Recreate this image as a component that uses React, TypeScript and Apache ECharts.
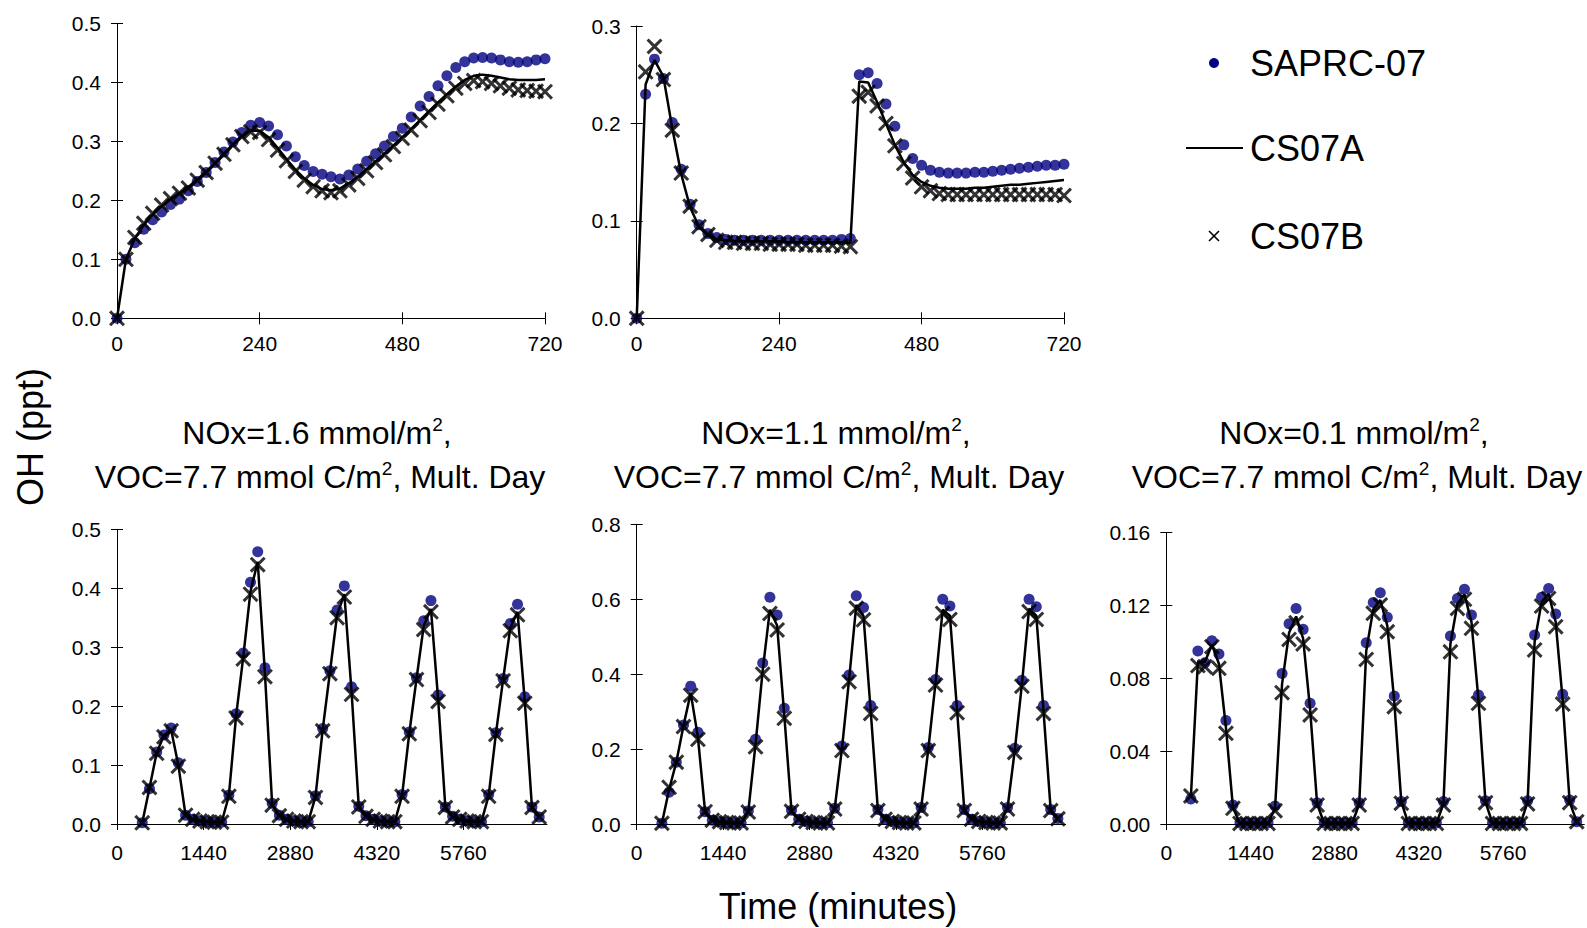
import React, { useEffect, useRef } from "react";
import * as echarts from "echarts";

const FONT = "'Liberation Sans', Arial, Helvetica, sans-serif";

// ---------- time axes ----------
const TOP_TIMES = [
  0, 15, 30, 45, 60, 75, 90, 105, 120, 135, 150, 165, 180, 195, 210, 225, 240,
  255, 270, 285, 300, 315, 330, 345, 360, 375, 390, 405, 420, 435, 450, 465, 480,
  495, 510, 525, 540, 555, 570, 585, 600, 615, 630, 645, 660, 675, 690, 705, 720,
];
const BOTTOM_TIMES = [
  420, 540, 660, 780, 900, 1020, 1140, 1260, 1380, 1500, 1620, 1740,
  1860, 1980, 2100, 2220, 2340, 2460, 2580, 2700, 2820, 2940, 3060, 3180,
  3300, 3420, 3540, 3660, 3780, 3900, 4020, 4140, 4260, 4380, 4500, 4620,
  4740, 4860, 4980, 5100, 5220, 5340, 5460, 5580, 5700, 5820, 5940, 6060,
  6180, 6300, 6420, 6540, 6660, 6780, 6900, 7020,
];
const TOP_X_TICKS = [0, 240, 480, 720];
const BOTTOM_X_TICKS = [0, 1440, 2880, 4320, 5760];

// ---------- top-left panel ----------
const TL_SAPRC = [
  0, 0.1, 0.128, 0.151, 0.167, 0.18, 0.193, 0.202, 0.216, 0.232,
  0.247, 0.264, 0.282, 0.299, 0.315, 0.327, 0.332, 0.326, 0.311, 0.292,
  0.274, 0.259, 0.249, 0.244, 0.24, 0.236, 0.243, 0.253, 0.266, 0.279,
  0.292, 0.308, 0.322, 0.341, 0.36, 0.376, 0.394, 0.411, 0.425, 0.435,
  0.441, 0.442, 0.441, 0.438, 0.435, 0.434, 0.435, 0.438, 0.44,
];
const TL_CS07A = [
  0, 0.1, 0.135, 0.158, 0.176, 0.19, 0.202, 0.212, 0.222, 0.235,
  0.248, 0.263, 0.279, 0.295, 0.309, 0.318, 0.318, 0.307, 0.289, 0.27,
  0.252, 0.237, 0.226, 0.219, 0.217, 0.22, 0.229, 0.24, 0.253, 0.266,
  0.279, 0.293, 0.307, 0.321, 0.336, 0.351, 0.366, 0.38, 0.393, 0.404,
  0.411, 0.413, 0.411, 0.408, 0.405, 0.404, 0.404, 0.404, 0.405,
];
const TL_CS07B = [
  0, 0.1, 0.137, 0.161, 0.178, 0.192, 0.203, 0.212, 0.221, 0.234,
  0.247, 0.263, 0.278, 0.294, 0.308, 0.316, 0.315, 0.303, 0.285, 0.267,
  0.249, 0.234, 0.223, 0.216, 0.213, 0.216, 0.226, 0.237, 0.25, 0.264,
  0.277, 0.291, 0.305, 0.319, 0.335, 0.349, 0.363, 0.377, 0.39, 0.398,
  0.403, 0.401, 0.398, 0.394, 0.39, 0.387, 0.386, 0.385, 0.384,
];

// ---------- top-middle panel ----------
const TM_SAPRC = [
  0, 0.23, 0.266, 0.246, 0.201, 0.153, 0.117, 0.096, 0.087, 0.083,
  0.081, 0.08, 0.08, 0.08, 0.08, 0.08, 0.08, 0.08, 0.08, 0.08,
  0.08, 0.08, 0.08, 0.081, 0.082, 0.25, 0.252, 0.241, 0.22, 0.197,
  0.178, 0.164, 0.157, 0.152, 0.15, 0.149, 0.149, 0.149, 0.15, 0.15,
  0.151, 0.152, 0.153, 0.154, 0.155, 0.156, 0.157, 0.157, 0.158,
];
const TM_CS07A = [
  0, 0.24, 0.265, 0.248, 0.195, 0.148, 0.114, 0.094, 0.085, 0.081,
  0.08, 0.079, 0.079, 0.079, 0.079, 0.079, 0.079, 0.078, 0.078, 0.078,
  0.078, 0.078, 0.078, 0.078, 0.077, 0.243, 0.242, 0.222, 0.2, 0.178,
  0.16, 0.147, 0.14, 0.136, 0.134, 0.133, 0.133, 0.133, 0.134, 0.134,
  0.135, 0.136, 0.137, 0.137, 0.138, 0.139, 0.14, 0.141, 0.142,
];
const TM_CS07B = [
  0, 0.253, 0.279, 0.245, 0.193, 0.149, 0.115, 0.094, 0.086, 0.08,
  0.078, 0.078, 0.077, 0.077, 0.077, 0.076, 0.076, 0.076, 0.076, 0.075,
  0.075, 0.075, 0.075, 0.074, 0.0735, 0.228, 0.232, 0.218, 0.2, 0.177,
  0.159, 0.144, 0.135, 0.131, 0.128, 0.127, 0.127, 0.127, 0.127, 0.127,
  0.127, 0.127, 0.127, 0.127, 0.127, 0.127, 0.127, 0.127, 0.126,
];

// ---------- bottom-left panel (NOx=1.6) ----------
const BL_SAPRC = [
  0.002, 0.06, 0.122, 0.151, 0.163, 0.104, 0.015, 0.008, 0.005, 0.004, 0.003, 0.003,
  0.049, 0.187, 0.29, 0.41, 0.462, 0.265, 0.035, 0.015, 0.008, 0.005, 0.004, 0.004,
  0.048, 0.162, 0.26, 0.363, 0.404, 0.233, 0.03, 0.014, 0.008, 0.005, 0.004, 0.004,
  0.05, 0.156, 0.248, 0.345, 0.379, 0.219, 0.029, 0.013, 0.008, 0.005, 0.004, 0.004,
  0.05, 0.155, 0.247, 0.34, 0.373, 0.216, 0.029, 0.012,
];
const BL_CS07A = [
  0.002, 0.061, 0.121, 0.15, 0.16, 0.1, 0.015, 0.008, 0.005, 0.004, 0.003, 0.003,
  0.048, 0.183, 0.284, 0.395, 0.445, 0.255, 0.033, 0.014, 0.008, 0.005, 0.004, 0.004,
  0.046, 0.16, 0.257, 0.355, 0.39, 0.225, 0.03, 0.013, 0.008, 0.005, 0.004, 0.004,
  0.048, 0.154, 0.246, 0.336, 0.365, 0.212, 0.028, 0.012, 0.008, 0.005, 0.004, 0.004,
  0.048, 0.153, 0.245, 0.333, 0.36, 0.209, 0.028, 0.012,
];
const BL_CS07B = [
  0.002, 0.062, 0.12, 0.148, 0.158, 0.098, 0.015, 0.008, 0.005, 0.004, 0.003, 0.003,
  0.047, 0.18, 0.28, 0.39, 0.44, 0.25, 0.032, 0.014, 0.008, 0.005, 0.004, 0.004,
  0.045, 0.158, 0.255, 0.35, 0.385, 0.22, 0.029, 0.013, 0.008, 0.005, 0.004, 0.004,
  0.047, 0.153, 0.245, 0.33, 0.36, 0.208, 0.028, 0.012, 0.008, 0.005, 0.004, 0.004,
  0.047, 0.152, 0.243, 0.328, 0.355, 0.205, 0.028, 0.012,
];

// ---------- bottom-middle panel (NOx=1.1) ----------
const BM_SAPRC = [
  0.002, 0.085, 0.165, 0.264, 0.368, 0.245, 0.033, 0.01, 0.006, 0.004, 0.003, 0.003,
  0.035, 0.226, 0.43, 0.605, 0.558, 0.309, 0.037, 0.013, 0.007, 0.004, 0.003, 0.003,
  0.042, 0.208, 0.398, 0.609, 0.578, 0.316, 0.039, 0.013, 0.007, 0.004, 0.003, 0.003,
  0.044, 0.204, 0.386, 0.6, 0.582, 0.316, 0.039, 0.013, 0.007, 0.004, 0.003, 0.003,
  0.044, 0.202, 0.384, 0.6, 0.58, 0.316, 0.039, 0.015,
];
const BM_CS07A = [
  0.002, 0.092, 0.165, 0.262, 0.35, 0.232, 0.033, 0.01, 0.006, 0.004, 0.003, 0.003,
  0.033, 0.212, 0.41, 0.572, 0.53, 0.29, 0.035, 0.013, 0.007, 0.004, 0.003, 0.003,
  0.041, 0.2, 0.386, 0.585, 0.555, 0.302, 0.037, 0.013, 0.007, 0.004, 0.003, 0.003,
  0.042, 0.199, 0.376, 0.572, 0.556, 0.303, 0.037, 0.013, 0.007, 0.004, 0.003, 0.003,
  0.042, 0.195, 0.373, 0.575, 0.556, 0.302, 0.037, 0.014,
];
const BM_CS07B = [
  0.002, 0.098, 0.165, 0.26, 0.344, 0.226, 0.033, 0.01, 0.006, 0.004, 0.003, 0.003,
  0.032, 0.206, 0.4, 0.562, 0.518, 0.282, 0.034, 0.013, 0.007, 0.004, 0.003, 0.003,
  0.04, 0.196, 0.38, 0.576, 0.545, 0.295, 0.036, 0.013, 0.007, 0.004, 0.003, 0.003,
  0.04, 0.196, 0.371, 0.562, 0.546, 0.297, 0.036, 0.013, 0.007, 0.004, 0.003, 0.003,
  0.04, 0.191, 0.368, 0.567, 0.546, 0.295, 0.036, 0.014,
];

// ---------- bottom-right panel (NOx=0.1) ----------
const BR_SAPRC = [
  0.0137, 0.095, 0.0886, 0.1007, 0.0934, 0.0568, 0.0104, 0.0005, 0.0005, 0.0005, 0.0005, 0.0005,
  0.0099, 0.0827, 0.11, 0.1184, 0.1069, 0.0663, 0.0117, 0.0005, 0.0005, 0.0005, 0.0005, 0.0005,
  0.0117, 0.0996, 0.1216, 0.127, 0.1135, 0.0703, 0.0123, 0.0005, 0.0005, 0.0005, 0.0005, 0.0005,
  0.0123, 0.1032, 0.1239, 0.1289, 0.1148, 0.0708, 0.0128, 0.0005, 0.0005, 0.0005, 0.0005, 0.0005,
  0.0128, 0.1038, 0.1245, 0.1294, 0.1153, 0.0712, 0.0132, 0.0013,
];
const BR_CS07A = [
  0.0145, 0.089, 0.089, 0.0985, 0.088, 0.053, 0.009, 0.0004, 0.0004, 0.0004, 0.0004, 0.0004,
  0.0085, 0.077, 0.105, 0.114, 0.102, 0.063, 0.011, 0.0004, 0.0004, 0.0004, 0.0004, 0.0004,
  0.011, 0.095, 0.118, 0.123, 0.109, 0.067, 0.012, 0.0004, 0.0004, 0.0004, 0.0004, 0.0004,
  0.011, 0.099, 0.121, 0.126, 0.111, 0.068, 0.012, 0.0004, 0.0004, 0.0004, 0.0004, 0.0004,
  0.012, 0.1, 0.122, 0.1265, 0.111, 0.068, 0.012, 0.0013,
];
const BR_CS07B = [
  0.0154, 0.087, 0.0864, 0.0974, 0.0855, 0.0498, 0.0086, 0.0003, 0.0003, 0.0003, 0.0003, 0.0003,
  0.0073, 0.0721, 0.1014, 0.1106, 0.0989, 0.0599, 0.0104, 0.0003, 0.0003, 0.0003, 0.0003, 0.0003,
  0.0104, 0.0904, 0.1157, 0.1203, 0.1056, 0.0644, 0.0114, 0.0003, 0.0003, 0.0003, 0.0003, 0.0003,
  0.0104, 0.0946, 0.1184, 0.1234, 0.1075, 0.0663, 0.0117, 0.0003, 0.0003, 0.0003, 0.0003, 0.0003,
  0.011, 0.0956, 0.1197, 0.1239, 0.1084, 0.0659, 0.0117, 0.0013,
];

const SERIES_NAMES = ["SAPRC-07", "CS07A", "CS07B"];
const TITLES = [
  { nox: "1.6", voc: "7.7" },
  { nox: "1.1", voc: "7.7" },
  { nox: "0.1", voc: "7.7" },
];

// filled thick "X" outline, scaled by symbolSize
const X_MARK =
  "path://M0,1.6L1.6,0L6,4.4L10.4,0L12,1.6L7.6,6L12,10.4L10.4,12L6,7.6L1.6,12L0,10.4L4.4,6Z";
const NAVY = "#000080";

function pairs(t: number[], v: number[]) {
  return v.map((y, i) => [t[i], y]);
}

export default function App() {
  const ref = useRef<HTMLDivElement>(null);

  useEffect(() => {
    document.body.style.margin = "0";
    const chart = echarts.init(ref.current!, null, { renderer: "svg" });

    const panels = [
      { grid: { left: 117, top: 23.3, width: 428, height: 295 }, xMax: 720, xInt: 240, xTicks: TOP_X_TICKS, yMax: 0.5, yInt: 0.1, dec: 1, t: TOP_TIMES, s: TL_SAPRC, a: TL_CS07A, b: TL_CS07B, lm: 15 },
      { grid: { left: 636.7, top: 26, width: 427.3, height: 292.3 }, xMax: 720, xInt: 240, xTicks: TOP_X_TICKS, yMax: 0.3, yInt: 0.1, dec: 1, t: TOP_TIMES, s: TM_SAPRC, a: TM_CS07A, b: TM_CS07B, lm: 15 },
      { grid: { left: 117, top: 529.3, width: 430, height: 294.7 }, xMax: 7150, xInt: 1440, xTicks: BOTTOM_X_TICKS, yMax: 0.5, yInt: 0.1, dec: 1, t: BOTTOM_TIMES, s: BL_SAPRC, a: BL_CS07A, b: BL_CS07B, lm: 18 },
      { grid: { left: 636.7, top: 524.3, width: 429, height: 299.7 }, xMax: 7150, xInt: 1440, xTicks: BOTTOM_X_TICKS, yMax: 0.8, yInt: 0.2, dec: 1, t: BOTTOM_TIMES, s: BM_SAPRC, a: BM_CS07A, b: BM_CS07B, lm: 18 },
      { grid: { left: 1166.3, top: 532.7, width: 418, height: 291.3 }, xMax: 7150, xInt: 1440, xTicks: BOTTOM_X_TICKS, yMax: 0.16, yInt: 0.04, dec: 2, t: BOTTOM_TIMES, s: BR_SAPRC, a: BR_CS07A, b: BR_CS07B, lm: 18 },
    ];

    const labelStyle = { color: "#000", fontSize: 21, fontFamily: FONT };
    const lineStyle = { color: "#000", width: 1 };

    const grid = panels.map((p) => ({ ...p.grid, containLabel: false }));
    const xAxis: any[] = [];
    const yAxis: any[] = [];
    panels.forEach((p, i) => {
      xAxis.push({
        type: "value", gridIndex: i, min: 0, max: p.xMax, interval: p.xInt,
        axisLine: { show: true, onZero: false, lineStyle },
        axisTick: { show: true, length: 6, lineStyle, customValues: p.xTicks },
        axisLabel: {
          ...labelStyle, margin: p.lm, customValues: p.xTicks,
          formatter: (v: number) => (p.xTicks.indexOf(v) >= 0 ? String(v) : ""),
        },
        splitLine: { show: false },
      });
      yAxis.push({
        type: "value", gridIndex: i, min: 0, max: p.yMax, interval: p.yInt,
        axisLine: { show: true, onZero: false, lineStyle },
        axisTick: { show: true, length: 6, lineStyle },
        axisLabel: { ...labelStyle, margin: 16, formatter: (v: number) => v.toFixed(p.dec) },
        splitLine: { show: false },
      });
    });
    // duplicate axes: inside half of the crossing tick marks
    panels.forEach((p, i) => {
      xAxis.push({
        type: "value", gridIndex: i, min: 0, max: p.xMax, interval: p.xInt, position: "bottom",
        axisLine: { show: false },
        axisTick: { show: true, inside: true, length: 6, lineStyle, customValues: p.xTicks },
        axisLabel: { show: false },
        splitLine: { show: false },
      });
      yAxis.push({
        type: "value", gridIndex: i, min: 0, max: p.yMax, interval: p.yInt, position: "left",
        axisLine: { show: false },
        axisTick: { show: true, inside: true, length: 6, lineStyle },
        axisLabel: { show: false },
        splitLine: { show: false },
      });
    });

    const series: any[] = [];
    panels.forEach((p, i) => {
      series.push({
        name: SERIES_NAMES[0], type: "scatter", xAxisIndex: i, yAxisIndex: i,
        data: pairs(p.t, p.s), symbol: "circle", symbolSize: 11,
        itemStyle: { color: NAVY }, silent: true, clip: false,
      });
      series.push({
        name: SERIES_NAMES[1], type: "line", xAxisIndex: i, yAxisIndex: i,
        data: pairs(p.t, p.a), symbol: "none", showSymbol: false,
        lineStyle: { color: "#000", width: 2.5 }, silent: true, clip: false,
      });
      series.push({
        name: SERIES_NAMES[2], type: "scatter", xAxisIndex: i, yAxisIndex: i,
        data: pairs(p.t, p.b), symbol: X_MARK, symbolSize: 16,
        itemStyle: { color: "#000" },
        silent: true, clip: false,
      });
    });

    const titleCenters = [320, 839, 1357];
    const rich = {
      a: { fontSize: 32, fontFamily: FONT, fill: "#000", lineHeight: 36 },
      s: { fontSize: 19, fontFamily: FONT, fill: "#000", verticalAlign: "top", lineHeight: 36 },
    };
    const graphic: any[] = [];
    TITLES.forEach((tt, k) => {
      const cx = titleCenters[k];
      graphic.push({
        type: "text", x: cx - 3, y: 433, silent: true,
        style: { text: `{a|NOx=${tt.nox} mmol/m}{s|2}{a|,}`, align: "center", verticalAlign: "middle", rich },
      });
      graphic.push({
        type: "text", x: cx, y: 477, silent: true,
        style: { text: `{a|VOC=${tt.voc} mmol C/m}{s|2}{a|, Mult. Day}`, align: "center", verticalAlign: "middle", rich },
      });
    });
    graphic.push({
      type: "text", x: 30, y: 437, rotation: Math.PI / 2, silent: true,
      style: { text: "OH (ppt)", align: "center", verticalAlign: "middle", fontSize: 36, fontFamily: FONT, fill: "#000" },
    });
    graphic.push({
      type: "text", x: 838, y: 906, silent: true,
      style: { text: "Time (minutes)", align: "center", verticalAlign: "middle", fontSize: 36, fontFamily: FONT, fill: "#000" },
    });
    // legend
    graphic.push({ type: "circle", shape: { cx: 1214, cy: 63, r: 5 }, style: { fill: NAVY }, silent: true });
    graphic.push({
      type: "text", x: 1250, y: 63, silent: true,
      style: { text: SERIES_NAMES[0], align: "left", verticalAlign: "middle", fontSize: 36, fontFamily: FONT, fill: "#000" },
    });
    graphic.push({ type: "line", shape: { x1: 1186, y1: 148, x2: 1243, y2: 148 }, style: { stroke: "#000", lineWidth: 2 }, silent: true });
    graphic.push({
      type: "text", x: 1250, y: 148, silent: true,
      style: { text: SERIES_NAMES[1], align: "left", verticalAlign: "middle", fontSize: 36, fontFamily: FONT, fill: "#000" },
    });
    graphic.push({ type: "line", shape: { x1: 1209, y1: 231, x2: 1219, y2: 241 }, style: { stroke: "#000", lineWidth: 1.6 }, silent: true });
    graphic.push({ type: "line", shape: { x1: 1219, y1: 231, x2: 1209, y2: 241 }, style: { stroke: "#000", lineWidth: 1.6 }, silent: true });
    graphic.push({
      type: "text", x: 1250, y: 236, silent: true,
      style: { text: SERIES_NAMES[2], align: "left", verticalAlign: "middle", fontSize: 36, fontFamily: FONT, fill: "#000" },
    });

    chart.setOption({
      animation: false,
      backgroundColor: "#fff",
      textStyle: { fontFamily: FONT },
      grid,
      xAxis,
      yAxis,
      series,
      graphic,
    });
    return () => chart.dispose();
  }, []);

  return (
    <div
      ref={ref}
      style={{ position: "fixed", left: 0, top: 0, width: 1587, height: 928, background: "#fff" }}
    />
  );
}
